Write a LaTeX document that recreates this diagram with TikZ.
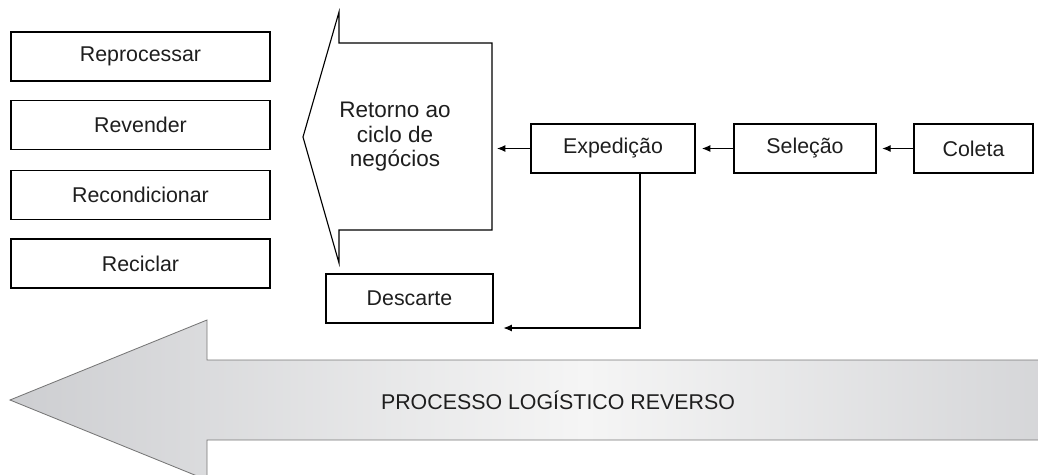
\documentclass[tikz,border=0pt]{standalone}
\usepackage{fontspec}
\setmainfont{Liberation Sans}
\usetikzlibrary{arrows.meta}
\definecolor{Escuro}{RGB}{205, 206, 209}
\definecolor{Claro}{RGB}{245, 245, 245}
\definecolor{Borda}{RGB}{118, 118, 118}
\definecolor{Texto}{RGB}{30, 30, 30}

\tikzset{
  caixa/.style={draw, line width=0.8pt, minimum height=1.225cm, inner sep=0pt, text=Texto},
  seta/.style={-{Latex[length=6pt, width=5pt]}, line width=0.8pt}
}

\begin{document}
\begin{tikzpicture}[x=0.025cm, y=-0.025cm, font=\fontsize{15.2}{17.4}\selectfont]
  \useasboundingbox (0,0) rectangle (1038,474);
  \clip (0,0) rectangle (1038,474);

  %Seta grande do processo (degrade)
  %O middle color tem que vir por ultimo
  \shade[left color=Escuro, right color=Escuro, middle color=Claro, draw=Borda, line width=0.6pt]
    (10,400) -- (207,320) -- (207,360) -- (1160,360) -- (1160,440)
    -- (207,440) -- (207,480) -- cycle;
  \node[text=Texto] (processo) at (558,400) {PROCESSO LOGÍSTICO REVERSO};

  %Caixas da esquerda
  \node[caixa, minimum width=6.475cm] (reprocessar) at (140.5,56.5) {Reprocessar};
  \node[caixa, minimum width=6.475cm] (revender) at (140.5,125) {Revender};
  \node[caixa, minimum width=6.475cm] (recondicionar) at (140.5,195) {Recondicionar};
  \node[caixa, minimum width=6.475cm] (reciclar) at (140.5,263.5) {Reciclar};

  %Seta do retorno ao ciclo de negocios
  \draw[line width=0.8pt] (339,12) -- (339,43) -- (492,43) -- (492,230)
    -- (339,230) -- (339,263) -- (303,137) -- cycle;
  \node[align=center, text=Texto, font=\fontsize{16}{17.4}\selectfont] (retorno) at (395,137) {Retorno ao\\ciclo de\\negócios};
  \coordinate (retorno-dir) at (497,148.5);

  %Etapas do fluxo
  \node[caixa, minimum width=4.1cm] (expedicao) at (613,148.5) {Expedição};
  \node[caixa, minimum width=3.55cm] (selecao) at (805,148.5) {Seleção};
  \node[caixa, minimum width=2.975cm] (coleta) at (973.5,148.5) {Coleta};
  \node[caixa, minimum width=4.175cm] (descarte) at (409.5,298.5) {Descarte};

  %Ligacoes
  \draw[seta, shorten >=4pt] (coleta) -- (selecao);
  \draw[seta, shorten >=4.5pt] (selecao) -- (expedicao);
  \draw[seta] (expedicao) -- (retorno-dir);
  \coordinate (desvio) at (640,328);
  \draw[seta] (expedicao.south -| desvio) -- (desvio)
    -- ([xshift=7pt]descarte.east |- desvio);
\end{tikzpicture}
\end{document}
